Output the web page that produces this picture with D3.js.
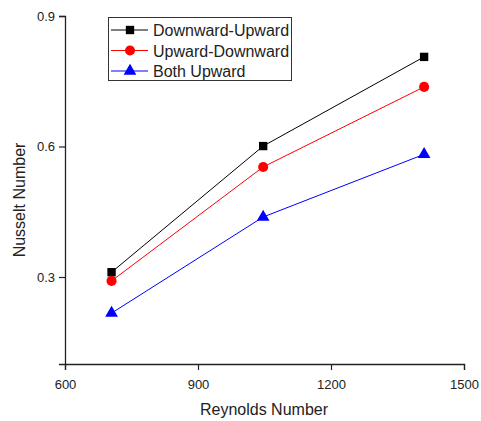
<!DOCTYPE html>
<html lang="en">
<head>
    <meta charset="UTF-8">
    <title>Nusselt vs Reynolds</title>
    <script src="https://cdn.jsdelivr.net/npm/d3@7/dist/d3.min.js"></script>
    <style>
        body { margin: 0; background: #fff; }
        text { font-family: "Liberation Sans", Arial, sans-serif; fill: #222; }
    </style>
</head>
<body>
<script>
    // data
    let reynolds = [705, 1047, 1410];
    let downUp = [0.311, 0.601, 0.806];
    let upDown = [0.291, 0.553, 0.737];
    let bothUp = [0.217, 0.438, 0.582];
    let seriesNames = ["Downward-Upward", "Upward-Downward", "Both Upward"];
    let xTicks = [600, 900, 1200, 1500];
    let yTicks = [0.3, 0.6, 0.9];

    let W = 481, H = 421;
    let svg = d3.select('body').append('svg')
        .attr('width', W).attr('height', H);

    let xScale = d3.scaleLinear().domain([600, 1500]).range([65, 464]);
    let yScale = d3.scaleLinear().domain([0.1, 0.9]).range([364, 16]);

    let series = [
        {name: seriesNames[0], values: downUp, color: 'black', shape: d3.symbolSquare, size: 70},
        {name: seriesNames[1], values: upDown, color: 'red', shape: d3.symbolCircle, size: 80},
        {name: seriesNames[2], values: bothUp, color: 'blue', shape: d3.symbolTriangle, size: 70}
    ];

    // axes
    let xAxis = svg.append('g')
        .attr('transform', 'translate(0,' + yScale(0.1) + ')');
    xAxis.call(d3.axisBottom(xScale).tickValues([750, 1050, 1350]).tickSize(4).tickFormat(''));
    xAxis.call(d3.axisBottom(xScale).tickValues(xTicks).tickSize(6).tickFormat(d3.format('d')));

    let yAxis = svg.append('g')
        .attr('transform', 'translate(' + xScale(600) + ',0)');
    yAxis.call(d3.axisLeft(yScale).tickValues([0.15, 0.45, 0.75]).tickSize(4).tickFormat(''));
    yAxis.call(d3.axisLeft(yScale).tickValues(yTicks).tickSize(6).tickFormat(d3.format('.1f')));

    svg.selectAll('.domain').attr('stroke', '#222').attr('stroke-width', 1.3);
    svg.selectAll('.tick line').attr('stroke', '#222').attr('stroke-width', 1.2);
    svg.selectAll('.tick text')
        .style('font-family', '"Liberation Sans", Arial, sans-serif')
        .style('font-size', '13px').attr('fill', '#222');
    xAxis.selectAll('.tick text').attr('y', 16);
    yAxis.selectAll('.tick text').attr('x', -10);

    // axis titles
    svg.append('text')
        .attr('x', 264).attr('y', 415)
        .attr('text-anchor', 'middle')
        .style('font-size', '16px')
        .text('Reynolds Number');
    svg.append('text')
        .attr('transform', 'translate(25,200) rotate(-90)')
        .attr('text-anchor', 'middle')
        .style('font-size', '16px')
        .text('Nusselt Number');

    // lines and markers
    let line = d3.line()
        .x(function (d, i) { return xScale(reynolds[i]); })
        .y(function (d) { return yScale(d); });

    series.forEach(function (s) {
        svg.append('path')
            .attr('d', line(s.values))
            .attr('fill', 'none')
            .attr('stroke', s.color)
            .attr('stroke-width', 1);
        svg.selectAll(null).data(s.values)
            .enter()
            .append('path')
            .attr('d', d3.symbol().type(s.shape).size(s.size))
            .attr('transform', function (d, i) {
                return 'translate(' + xScale(reynolds[i]) + ',' + yScale(d) + ')';
            })
            .attr('fill', s.color);
    });

    // legend
    let legend = svg.append('g');
    legend.append('rect')
        .attr('x', 108.5).attr('y', 17.5)
        .attr('width', 183).attr('height', 63)
        .attr('fill', 'white')
        .attr('stroke', '#333')
        .attr('stroke-width', 1);
    series.forEach(function (s, i) {
        let y = 30 + i * 20.5;
        legend.append('line')
            .attr('x1', 111).attr('x2', 148)
            .attr('y1', y).attr('y2', y)
            .attr('stroke', s.color).attr('stroke-width', 1);
        legend.append('path')
            .attr('d', d3.symbol().type(s.shape).size(s.size))
            .attr('transform', 'translate(130,' + y + ')')
            .attr('fill', s.color);
        legend.append('text')
            .attr('x', 153).attr('y', y + 6)
            .style('font-size', '16px')
            .text(s.name);
    });
</script>
</body>
</html>
